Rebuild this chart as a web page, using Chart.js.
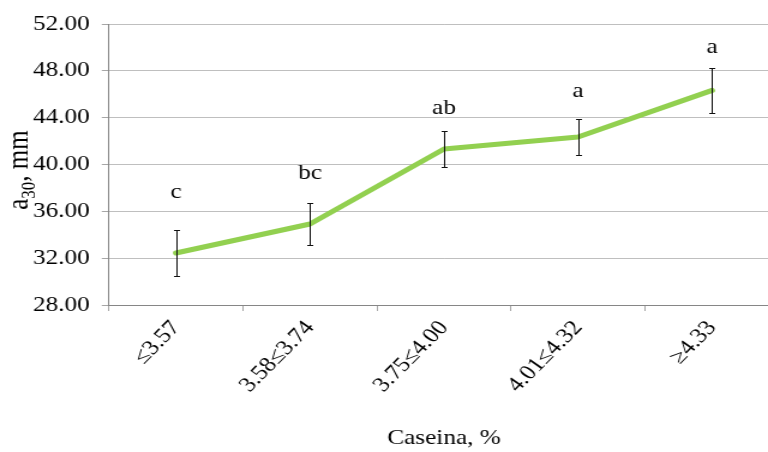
<!DOCTYPE html>
<html><head><meta charset="utf-8">
<script src="https://cdn.jsdelivr.net/npm/chart.js@4.4.1/dist/chart.umd.min.js"></script>
<style>
html,body{margin:0;padding:0;overflow:hidden;background:#fff;width:768px;height:452px}
#wrap{position:absolute;left:0;top:0;width:660px;height:452px;transform:scaleX(1.2);transform-origin:0 0}
</style></head><body>
<div id="wrap"><canvas id="c"></canvas></div>
<script>
// ---- data ----
const categories = ['≤3.57', '3.58≤3.74', '3.75≤4.00', '4.01≤4.32', '≥4.33'];
const a30Values = [32.44, 34.92, 41.32, 42.35, 46.33];
const a30Errors = [1.95, 1.83, 1.56, 1.52, 1.93];
const groupLetters = ['c', 'bc', 'ab', 'a', 'a'];
const letterBaseline = [37.1, 38.8, 44.3, 45.8, 49.5];
const yMin = 28, yMax = 52, yStep = 4;
const xTitle = 'Caseina, %';

const FONT = '"Liberation Serif", "Times New Roman", serif';

const errorBars = {
  id: 'errorBars',
  afterDatasetsDraw(chart) {
    const {ctx, scales: {x, y}} = chart;
    ctx.save();
    ctx.strokeStyle = '#111';
    ctx.lineWidth = 1;
    a30Values.forEach((v, i) => {
      const px = Math.round(x.getPixelForValue(i)) + 0.5;
      const t = Math.round(y.getPixelForValue(v + a30Errors[i])) + 0.5;
      const b = Math.round(y.getPixelForValue(v - a30Errors[i])) + 0.5;
      ctx.beginPath();
      ctx.moveTo(px, t); ctx.lineTo(px, b);
      ctx.moveTo(px - 2.5, t); ctx.lineTo(px + 2.5, t);
      ctx.moveTo(px - 2.5, b); ctx.lineTo(px + 2.5, b);
      ctx.stroke();
    });
    ctx.restore();
  },
  afterDraw(chart) {
    const {ctx, scales: {x, y}} = chart;
    ctx.save();
    ctx.fillStyle = '#000';
    ctx.font = '21px ' + FONT;
    ctx.textAlign = 'center';
    ctx.textBaseline = 'alphabetic';
    groupLetters.forEach((s, i) => {
      ctx.fillText(s, x.getPixelForValue(i), y.getPixelForValue(letterBaseline[i]));
    });
    // y-axis title with subscript
    const big = '25px ' + FONT, small = '17px ' + FONT;
    ctx.font = big; const wA = ctx.measureText('a').width; const wR = ctx.measureText(', mm').width;
    ctx.font = small; const wS = ctx.measureText('30').width;
    const total = wA + wS + wR;
    ctx.translate(23, 170);
    ctx.rotate(-Math.PI / 2);
    ctx.textAlign = 'left';
    let cx = -total / 2;
    ctx.font = big; ctx.fillText('a', cx, 0); cx += wA;
    ctx.font = small; ctx.fillText('30', cx, 6); cx += wS;
    ctx.font = big; ctx.fillText(', mm', cx, 0);
    ctx.restore();
  }
};

new Chart(document.getElementById('c'), {
  type: 'line',
  data: {
    labels: categories,
    datasets: [{
      data: a30Values,
      borderColor: '#92D050',
      borderWidth: 5,
      borderCapStyle: 'round',
      borderJoinStyle: 'round',
      pointRadius: 0,
      tension: 0,
      fill: false
    }]
  },
  options: {
    responsive: true,
    maintainAspectRatio: false,
    animation: false,
    layout: {padding: {top: 24, right: 10.8, left: 0, bottom: 0}},
    plugins: {legend: {display: false}, tooltip: {enabled: false}},
    scales: {
      x: {
        offset: true,
        grid: {offset: true, drawOnChartArea: false, drawTicks: true, tickLength: 6, color: '#A6A6A6'},
        border: {color: '#868686', width: 1},
        ticks: {font: {family: FONT, size: 21}, color: '#000', maxRotation: 50, minRotation: 50, autoSkip: false, padding: 5},
        title: {display: true, text: xTitle, font: {family: FONT, size: 21}, color: '#000', padding: {top: 0, bottom: 1}},
        afterFit: s => { s.height = 147; }
      },
      y: {
        min: yMin, max: yMax,
        grid: {color: '#BFBFBF', tickLength: 6, tickColor: '#A6A6A6'},
        border: {color: '#868686', width: 1},
        ticks: {stepSize: yStep, callback: v => v.toFixed(2), font: {family: FONT, size: 21}, color: '#000', padding: 10},
        afterFit: s => { s.width = 90.8; }
      }
    }
  },
  plugins: [errorBars]
});
</script>
</body></html>
